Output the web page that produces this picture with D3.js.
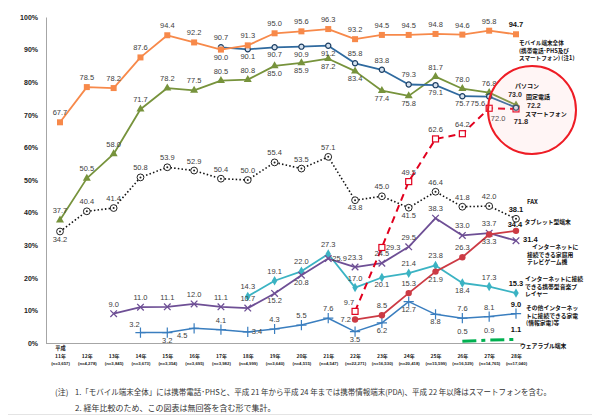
<!DOCTYPE html>
<html><head><meta charset="utf-8">
<script src="https://cdn.jsdelivr.net/npm/d3@7"></script>
<style>body{margin:0;background:#fff}svg{display:block}</style>
</head><body><svg id="c" width="600" height="418"></svg>
<script>
// ---------------- data ----------------
const years = ['11年','12年','13年','14年','15年','16年','17年','18年','19年','20年','21年','22年','23年','24年','25年','26年','27年','28年'];
const samples = ['(n=3,657)','(n=4,278)','(n=3,845)','(n=3,673)','(n=3,354)','(n=3,695)','(n=3,982)','(n=4,999)','(n=3,640)','(n=4,515)','(n=4,547)','(n=22,271)','(n=16,530)','(n=20,418)','(n=15,599)','(n=16,529)','(n=14,765)','(n=17,040)'];
const yTicks = [0,10,20,30,40,50,60,70,80,90,100];
const _ = null;
const mobile     = [67.7,78.5,78.2,87.6,94.4,92.2,90.0,91.3,95.0,95.6,96.3,93.2,94.5,94.5,94.8,94.6,95.8,94.7];
const pc         = [37.7,50.5,58.0,71.7,78.2,77.5,80.5,80.8,85.0,85.9,87.2,83.4,77.4,75.8,81.7,78.0,76.8,73.0];
const fixedPhone = [_,_,_,_,_,_,90.7,90.1,90.7,90.9,91.2,85.8,83.8,79.3,79.1,75.7,75.6,72.2];
const fax        = [34.2,40.4,41.4,50.8,53.9,52.9,50.4,50.0,55.4,53.5,57.1,43.8,45.0,41.5,46.4,41.8,42.0,38.1];
const smartphone = [_,_,_,_,_,_,_,_,_,_,_,9.7,29.3,49.5,62.6,64.2,72.0,71.8];
const tablet     = [_,_,_,_,_,_,_,_,_,_,_,7.2,8.5,15.3,21.9,26.3,33.3,34.4];
const gameConsole= [_,_,9.0,11.0,11.1,12.0,11.1,10.7,15.2,20.8,25.9,23.3,24.5,29.5,38.3,33.0,33.7,31.4];
const musicPlayer= [_,_,_,_,_,_,_,14.3,19.1,22.0,27.3,17.0,20.1,21.4,23.8,18.4,17.3,15.3];
const otherAppl  = [_,_,_,3.2,3.2,4.5,4.1,3.4,4.3,5.5,7.6,3.5,6.2,12.7,8.8,7.6,8.1,9.0];
const wearable   = [_,_,_,_,_,_,_,_,_,_,_,_,_,_,_,0.5,0.9,1.1];

// label placement codes (separate from values)
const mobilePos = ['a','a','a','a','a','a','b','a','a','a','a','a','a','a','a','a','a','a'];
const pcPos     = ['a','a','a','a','a','a','a','a','b','b','b','b','b','b','a','a','a','x3'];
const fixedPos  = [_,_,_,_,_,_,'a','b','b','b','b','a','a','a','b','b','bl','x4'];
const faxPos    = ['b','a','a','a','a','a','a','a','a','a','a','b','a','b','a','a','a','a'];
const smartPos  = [_,_,_,_,_,_,_,_,_,_,_,'al','r','a','a','a','x1','x2'];
const tabletPos = [_,_,_,_,_,_,_,_,_,_,_,'l','a','a','b','a','b','t'];
const gamePos   = [_,_,'a','a','a','a','a','a','b','b','r','a','a','a','a','a','a','r2'];
const musicPos  = [_,_,_,_,_,_,_,'a','a','a','a','a','b','a','a','b','a','a'];
const otherPos  = [_,_,_,'al','b','bl2','a','r','a','a','a','b','b','b','b','a','a','a'];
const wearPos   = [_,_,_,_,_,_,_,_,_,_,_,_,_,_,_,'a','a','a'];

// ---------------- setup ----------------
const svg = d3.select('#c');
const LAT = "'Liberation Sans', Arial, sans-serif";
const JP = "'Noto Sans CJK JP', sans-serif";
const x = d3.scalePoint().domain(years).range([60, 516]);
const y = d3.scaleLinear().domain([0, 100]).range([343, 17]);

// y axis
const gy = svg.append('g').attr('transform', 'translate(46,0)')
  .call(d3.axisLeft(y).tickValues(yTicks).tickFormat(d => d + '%').tickSize(0).tickSizeOuter(0).tickPadding(8));
gy.select('.domain').attr('stroke', '#a6a6a6').attr('stroke-width', 1);
gy.selectAll('text').attr('font-family', LAT).attr('font-size', 7).attr('font-weight', 'bold').attr('fill', '#222');

// x axis
const gx = svg.append('g').attr('transform', `translate(0,${y(0)})`)
  .call(d3.axisBottom(x).tickSize(0).tickSizeOuter(0).tickFormat(''));
gx.select('.domain').attr('stroke', '#a6a6a6').attr('stroke-width', 1)
  .attr('d', `M46,0.5H${x(years[years.length-1]) + 6}`);
gx.selectAll('.tick').each(function(d, i) {
  const t = d3.select(this);
  if (i === 0) t.append('text').attr('y', 7).attr('text-anchor','middle').attr('font-family', JP).attr('font-size', 5.2).attr('font-weight','bold').attr('fill','#222').text('平成');
  t.append('text').attr('y', 14.5).attr('text-anchor','middle').attr('font-family', JP).attr('font-size', 5).attr('font-weight','bold').attr('fill','#222').text(d);
  t.append('text').attr('y', 21.5).attr('text-anchor','middle').attr('font-family', LAT).attr('font-size', 4.3).attr('font-weight','bold').attr('fill','#222').text(samples[i]);
});

// ---------------- series ----------------
const series = [
  {v: otherAppl,  pos: otherPos,  color: '#3a7ebf', w: 1.5, marker: 'plus'},
  {v: wearable,   pos: wearPos,   color: '#00b050', w: 3, dash: '14,5,4,5', marker: null},
  {v: musicPlayer,pos: musicPos,  color: '#3bb3c3', w: 1.8, marker: 'diamond'},
  {v: gameConsole,pos: gamePos,   color: '#6e4f95', w: 1.8, marker: 'times'},
  {v: tablet,     pos: tabletPos, color: '#cc3a44', w: 1.8, marker: 'dot'},
  {v: fax,        pos: faxPos,    color: '#111', w: 1.6, dash: '1.5,2.2', marker: 'faxcircle'},
  {v: smartphone, pos: smartPos,  color: '#e1001e', w: 2, dash: '7,5', marker: 'opensquare'},
  {v: pc,         pos: pcPos,     color: '#77933c', w: 1.8, marker: 'triangle'},
  {v: fixedPhone, pos: fixedPos,  color: '#2f6a9f', w: 1.8, marker: 'ring'},
  {v: mobile,     pos: mobilePos, color: '#f7894a', w: 1.8, marker: 'square'}
];

const line = d3.line().defined(d => d.v != null).x(d => x(d.k)).y(d => y(d.v));
series.forEach(s => {
  const pts = s.v.map((v, i) => ({k: years[i], v, i}));
  svg.append('path').datum(pts).attr('d', line).attr('fill', 'none')
    .attr('stroke', s.color).attr('stroke-width', s.w)
    .attr('stroke-dasharray', s.dash || null).attr('stroke-linejoin','round');
  const valid = pts.filter(d => d.v != null);
  const g = svg.append('g');
  const m = g.selectAll('g').data(valid).join('g')
    .attr('transform', d => `translate(${x(d.k)},${y(d.v)})`);
  switch (s.marker) {
    case 'square': m.append('rect').attr('x',-3).attr('y',-3).attr('width',6).attr('height',6).attr('fill', s.color); break;
    case 'opensquare': m.append('rect').attr('x',-3).attr('y',-3).attr('width',6).attr('height',6).attr('fill','#fff').attr('stroke', s.color).attr('stroke-width',1.2); break;
    case 'triangle': m.append('path').attr('d', d3.symbol(d3.symbolTriangle, 28)).attr('fill', s.color); break;
    case 'ring': m.append('circle').attr('r', 2.6).attr('fill','#d5e2f0').attr('stroke','#1d3f63').attr('stroke-width',1.2); break;
    case 'faxcircle': m.append('circle').attr('r', 3.4).attr('fill','#fff').attr('stroke','#222').attr('stroke-width',1);
                      m.append('circle').attr('r', 1).attr('fill','#222'); break;
    case 'dot': m.append('circle').attr('r', 3.2).attr('fill', s.color); break;
    case 'diamond': m.append('path').attr('d', d3.symbol(d3.symbolDiamond, 26)).attr('fill', s.color); break;
    case 'times': m.append('path').attr('d', d3.symbol(d3.symbolTimes, 30)).attr('fill','none').attr('stroke', s.color).attr('stroke-width',1.3); break;
    case 'plus': m.append('path').attr('d', d3.symbol(d3.symbolPlus, 36)).attr('fill','none').attr('stroke', s.color).attr('stroke-width',1.2); break;
  }
  s.valid = valid;
});

// data labels
const OFF = {
  a: [0,-7,'middle'], b: [0,10,'middle'], l: [-4,2.5,'end'], r: [4,2.5,'start'],
  al: [-6,-6,'middle'], bl: [-4,9.5,'end'], bl2: [-12,10,'middle'], r2: [7,1.5,'start'],
  x1: [9,13,'middle'], x2: [5,15,'middle'], x3: [-1,-8.5,'middle'], x4: [11,0,'start'], t: [-1,-4,'middle']
};
series.forEach(s => {
  s.valid.forEach(d => {
    const code = s.pos[d.i]; if (!code) return;
    const o = OFF[code];
    const last = d.i === years.length - 1;
    svg.append('text').attr('x', x(d.k) + o[0]).attr('y', y(d.v) + o[1]).attr('text-anchor', o[2])
      .attr('font-family', LAT).attr('font-size', (code === 'x3' || code === 'x4') ? 7 : 7.5)
      .attr('font-weight', last ? 'bold' : 'normal')
      .attr('fill', last ? '#111' : '#404040')
      .text(d.v.toFixed(1));
  });
});

// highlight circle
svg.append('circle').attr('cx', 532).attr('cy', 110).attr('r', 44)
  .attr('fill', 'rgba(255,170,170,0.12)').attr('stroke', '#ee1c25').attr('stroke-width', 2);

// right-side series names
const names = [
  {t: ['モバイル端末全体', '(携帯電話･PHS及び', 'スマートフォン) (注1)'], x: 519, y: 45, fs: 5.6, lh: 7.6},
  {t: ['パソコン'], x: 515, y: 88, fs: 6, lh: 7},
  {t: ['固定電話'], x: 526, y: 99, fs: 6, lh: 7},
  {t: ['スマートフォン'], x: 525, y: 115.5, fs: 6, lh: 7},
  {t: ['FAX'], x: 527, y: 204, fs: 6, lh: 7},
  {t: ['タブレット型端末'], x: 524.5, y: 224, fs: 5.8, lh: 7},
  {t: ['インターネットに'], x: 532, y: 249, fs: 5.8, lh: 7.5},
  {t: ['接続できる家庭用', 'テレビゲーム機'], x: 527, y: 256.5, fs: 5.8, lh: 7.5},
  {t: ['インターネットに接続', 'できる携帯型音楽プ', 'レイヤー'], x: 525, y: 281, fs: 5.8, lh: 7.5},
  {t: ['その他インターネッ', 'トに接続できる家電', '(情報家電)等'], x: 526, y: 310, fs: 5.8, lh: 7.5},
  {t: ['ウェアラブル端末'], x: 520, y: 348, fs: 5.8, lh: 7}
];
names.forEach(n => {
  const t = svg.append('text').attr('font-family', JP).attr('font-size', n.fs).attr('font-weight', 'bold').attr('fill', '#111');
  n.t.forEach((s, i) => t.append('tspan').attr('x', n.x).attr('y', n.y + i * n.lh).text(s));
});

// notes
svg.append('text').attr('x', 55).attr('y', 395).attr('font-family', JP).attr('font-size', 8).attr('fill', '#333').text('(注)');
svg.append('text').attr('x', 75).attr('y', 395).attr('font-family', JP).attr('font-size', 8).attr('fill', '#333')
  .attr('textLength', 476).attr('lengthAdjust', 'spacingAndGlyphs')
  .text('1.「モバイル端末全体」には携帯電話･PHSと、平成 21 年から平成 24 年までは携帯情報端末(PDA)、平成 22 年以降はスマートフォンを含む。');
svg.append('text').attr('x', 75).attr('y', 411).attr('font-family', JP).attr('font-size', 8).attr('fill', '#333')
  .text('2. 経年比較のため、この図表は無回答を含む形で集計。');
svg.append('line').attr('x1', 8).attr('x2', 592).attr('y1', 414.5).attr('y2', 414.5).attr('stroke', '#e4e4e4').attr('stroke-width', 1);
</script>
</body></html>
